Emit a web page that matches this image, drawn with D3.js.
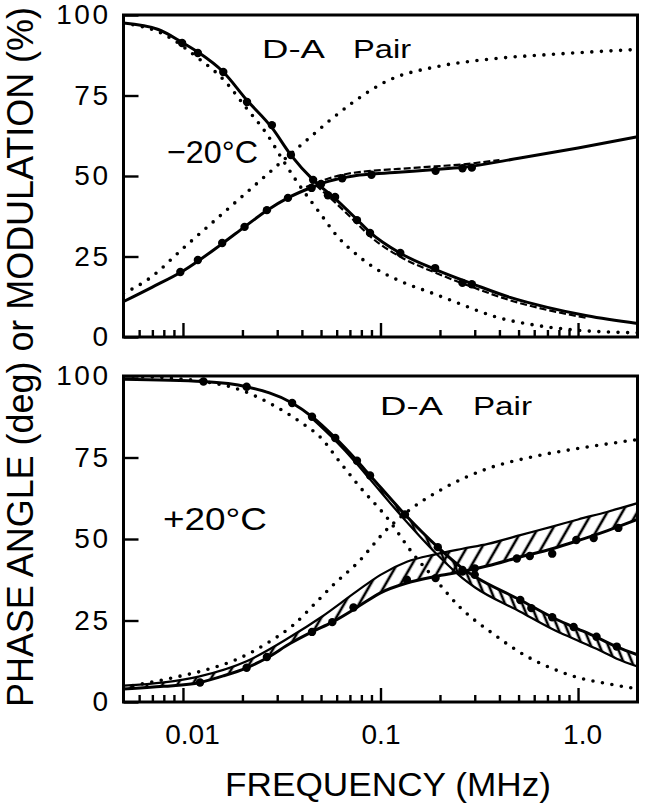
<!DOCTYPE html>
<html><head><meta charset="utf-8">
<script src="https://cdn.jsdelivr.net/npm/d3@7"></script>
<style>
body{margin:0;background:#fff}
svg{display:block}
text{font-family:"Liberation Sans",Arial,sans-serif;fill:#000}
</style>
</head><body>
<svg id="chart" width="645" height="806"></svg>
<script>
// ---------------- DATA (frequency in MHz, value in deg or %) ----------------
const xTickValues = [0.01, 0.1, 1];
const xTickLabels = ["0.01", "0.1", "1.0"];
const yTickValues = [0, 25, 50, 75, 100];

// Top panel (-20 °C)
const topPhaseFit = [[0.005,11],[0.007,15.5],[0.01,20.5],[0.0158,29],[0.0205,34.2],[0.0266,39.3],[0.034,43.2],[0.045,46.5],[0.055,48.4],[0.073,50],[0.09,50.6],[0.123,51.2],[0.19,52],[0.26,52.7],[0.5,55.5],[1.0,58.7],[2.0,62.2]];
const topPhaseAlt = [[0.042,46.6],[0.055,49.3],[0.073,51],[0.09,51.6],[0.123,52.2],[0.19,53],[0.26,53.6],[0.4,55]];
const topModFit = [[0.005,97.5],[0.0075,95.5],[0.0099,91.5],[0.0119,88.5],[0.016,82.3],[0.0211,73.5],[0.0282,65],[0.0352,56.5],[0.0456,48.8],[0.0589,43],[0.076,36.5],[0.0885,32.5],[0.126,26],[0.189,21],[0.301,16.2],[0.453,12.3],[0.7,9.2],[1.11,6.6],[2,4.2]];
const topModAlt = [[0.047,47.2],[0.0589,41.8],[0.076,35.3],[0.0885,31.3],[0.126,24.9],[0.189,20],[0.301,15.2],[0.453,11.4],[0.7,8.4],[1.11,5.9]];
const topPhaseOneExp = [[0.005,13.5],[0.0068,18.3],[0.01,27.5],[0.015,37],[0.0235,47.5],[0.031,54],[0.044,62],[0.056,67.5],[0.073,73],[0.108,79.5],[0.194,84],[0.345,86.2],[0.75,87.8],[2,89.3]];
const topModOneExp = [[0.005,97.5],[0.008,94],[0.012,86.5],[0.016,80],[0.021,71],[0.0266,63],[0.032,55],[0.0375,48.5],[0.05,38],[0.06,31.5],[0.076,25.5],[0.096,21],[0.13,17],[0.185,13.5],[0.26,10],[0.38,6.3],[0.59,3.8],[0.95,2.2],[2,1.3]];
const topPhasePts = [[0.0097,20.2],[0.0119,23.9],[0.0158,29.2],[0.0205,34.2],[0.0266,39.4],[0.034,43.2],[0.0448,46.3],[0.05,47.5],[0.064,49.3],[0.09,50.4],[0.19,51.6],[0.26,52.4],[0.29,52.6]];
const topModPts = [[0.0099,91.3],[0.0119,88.2],[0.016,82.3],[0.0211,73],[0.0282,65.8],[0.0352,56.5],[0.0456,48.8],[0.0542,44],[0.0589,43.5],[0.076,36.3],[0.0885,32.3],[0.126,26.1],[0.189,21.4],[0.26,16.8],[0.29,16.4]];

// Bottom panel (+20 °C)
const botPhaseFit = [[0.005,4],[0.008,4.8],[0.0122,6],[0.016,8],[0.021,10.5],[0.0266,13.5],[0.035,18],[0.045,21.5],[0.057,24.5],[0.076,29],[0.1,33.5],[0.136,36.5],[0.19,38.5],[0.26,40],[0.35,41.8],[0.51,44.5],[0.74,47],[1.0,49.5],[1.4,52.5],[2,56]];
const botPhaseBand = [[0.005,4,5],[0.008,4.8,6],[0.012,6,7.8],[0.021,10.5,12.5],[0.035,18,20],[0.05,22.8,26],[0.076,29,34],[0.1,33.5,39],[0.136,36.5,43],[0.19,38.5,45.3],[0.26,40,47],[0.35,41.8,48.5],[0.51,44.5,51.2],[0.74,47,53.8],[1.0,49.5,56],[1.4,52.5,58.3],[2,56,61]];
const botModFit = [[0.005,99],[0.0127,98.3],[0.021,96.7],[0.0357,91.7],[0.045,87.5],[0.059,81],[0.076,74],[0.0885,69.5],[0.133,57.5],[0.195,47.5],[0.26,41],[0.3,38.5],[0.51,31.3],[0.74,26],[0.95,23],[1.24,19.9],[1.57,16.9],[2,14.5]];
const botModBand = [[0.045,87,87.5],[0.059,80.2,81],[0.076,73,74],[0.0885,68.3,69.5],[0.133,55.8,57.5],[0.195,45,47.5],[0.26,38,41],[0.3,35.2,38.5],[0.51,27.7,31.3],[0.74,22.4,26],[0.95,19.4,23],[1.24,16.3,19.9],[1.57,13.3,16.9],[2,10.9,14.5]];
const botPhaseOneExp = [[0.005,4.5],[0.0082,7],[0.0142,10.5],[0.0186,13],[0.0266,18],[0.036,23.5],[0.048,31],[0.059,36.5],[0.076,42.5],[0.108,53],[0.141,59],[0.208,65.5],[0.345,71.5],[0.62,75.5],[1.11,78.2],[2,80.5]];
const botModOneExp = [[0.005,100],[0.012,98.5],[0.02,95.5],[0.0287,91],[0.039,86],[0.05,81],[0.0625,73.5],[0.0785,66],[0.108,56.5],[0.146,45.5],[0.19,37.5],[0.253,29],[0.37,21],[0.55,14],[0.76,10],[1.0,7.5],[1.36,5.8],[2,4]];
const botPhasePts = [[0.0122,6],[0.021,10.5],[0.0266,13.8],[0.045,21.5],[0.057,24.5],[0.073,29],[0.136,37.5],[0.19,38],[0.26,40],[0.3,41],[0.49,44],[0.57,44.8],[0.74,45.5],[0.98,49.7],[1.2,50.3],[1.6,53.4]];
const botModPts = [[0.0127,98.3],[0.021,96.7],[0.0357,91.7],[0.045,87.5],[0.059,81],[0.076,74],[0.0885,69.5],[0.133,57.5],[0.195,47.5],[0.26,40.5],[0.3,39],[0.51,31.3],[0.58,28.8],[0.74,26],[0.95,23],[1.24,20],[1.57,17]];

// ---------------- LAYOUT ----------------
const svg = d3.select("#chart");
const x = d3.scaleLog().domain([0.005, 2]).range([123.5, 637.5]);
const minorTicks = [];
[0.001,0.01,0.1,1].forEach(d => { for (let k=2;k<=9;k++){ const v=d*k; if (v>0.005 && v<2 && xTickValues.indexOf(v)<0) minorTicks.push(+v.toPrecision(3)); } });

const defs = svg.append("defs");
defs.append("pattern").attr("id","hatchDiag").attr("patternUnits","userSpaceOnUse")
  .attr("width",13).attr("height",13).attr("patternTransform","rotate(30)")
  .append("line").attr("x1",2).attr("y1",0).attr("x2",2).attr("y2",13)
  .attr("stroke","#000").attr("stroke-width",2.6);
defs.append("pattern").attr("id","hatchVert").attr("patternUnits","userSpaceOnUse")
  .attr("width",8).attr("height",8).attr("patternTransform","rotate(-22)")
  .append("line").attr("x1",2).attr("y1",0).attr("x2",2).attr("y2",8)
  .attr("stroke","#000").attr("stroke-width",2.6);

const panels = [
  {top:15, bottom:337, id:"p1", phaseFit:topPhaseFit, modFit:topModFit, phaseAlt:topPhaseAlt, modAlt:topModAlt,
   phase1:topPhaseOneExp, mod1:topModOneExp, phasePts:topPhasePts, modPts:topModPts, labels:false},
  {top:376, bottom:702, id:"p2", phaseFit:botPhaseFit, modFit:botModFit, phaseBand:botPhaseBand, modBand:botModBand,
   phase1:botPhaseOneExp, mod1:botModOneExp, phasePts:botPhasePts, modPts:botModPts, labels:true}
];

panels.forEach(p => {
  const y = d3.scaleLinear().domain([0,100]).range([p.bottom, p.top]);
  const g = svg.append("g");
  defs.append("clipPath").attr("id","clip"+p.id).append("rect")
    .attr("x",x.range()[0]).attr("y",p.top).attr("width",x.range()[1]-x.range()[0]).attr("height",p.bottom-p.top);
  const plot = g.append("g").attr("clip-path","url(#clip"+p.id+")");
  const line = d3.line().x(d=>x(d[0])).y(d=>y(d[1])).curve(d3.curveMonotoneX);
  const area = d3.area().x(d=>x(d[0])).y0(d=>y(d[1])).y1(d=>y(d[2])).curve(d3.curveMonotoneX);

  // dotted single-exponential curves
  [p.phase1, p.mod1].forEach(s => plot.append("path").attr("d", line(s)).attr("fill","none")
    .attr("stroke","#000").attr("stroke-width",3.6).attr("stroke-linecap","round").attr("stroke-dasharray","0 9.6"));

  // bands
  if (p.phaseBand) {
    plot.append("path").attr("d", area(p.phaseBand)).attr("fill","url(#hatchDiag)").attr("stroke","none");
    plot.append("path").attr("d", line(p.phaseBand.map(d=>[d[0],d[2]]))).attr("fill","none").attr("stroke","#000").attr("stroke-width",2.2);
  }
  if (p.modBand) {
    plot.append("path").attr("d", area(p.modBand)).attr("fill","url(#hatchVert)").attr("stroke","none");
    plot.append("path").attr("d", line(p.modBand.map(d=>[d[0],d[1]]))).attr("fill","none").attr("stroke","#000").attr("stroke-width",2.2);
  }
  // dashed companions (top panel)
  [p.phaseAlt, p.modAlt].forEach(s => { if (s) plot.append("path").attr("d", line(s)).attr("fill","none")
    .attr("stroke","#000").attr("stroke-width",2.2).attr("stroke-dasharray","7 3"); });

  // solid fits
  [p.phaseFit, p.modFit].forEach(s => plot.append("path").attr("d", line(s)).attr("fill","none")
    .attr("stroke","#000").attr("stroke-width",3));

  // data points
  [p.phasePts, p.modPts].forEach(s => plot.selectAll(null).data(s).enter().append("circle")
    .attr("cx", d=>x(d[0])).attr("cy", d=>y(d[1])).attr("r",4.2).attr("fill","#000"));

  // axes
  const gx = g.append("g").attr("transform",`translate(0,${p.bottom})`);
  gx.append("g").call(d3.axisBottom(x).tickValues(minorTicks).tickSize(-7).tickFormat(""));
  const major = gx.append("g").call(d3.axisBottom(x).tickValues(xTickValues).tickSize(-14).tickPadding(22)
    .tickFormat((d,i)=> p.labels ? xTickLabels[i] : ""));
  major.selectAll("text").attr("font-size",28).attr("dx", (d,i)=> i===0 ? 9 : (i===2 ? 4 : 0))
    .attr("font-family","Liberation Sans, Arial, sans-serif").attr("fill","#000");
  const gy = g.append("g").attr("transform",`translate(${x.range()[0]},0)`)
    .call(d3.axisLeft(y).tickValues(yTickValues).tickSize(-15).tickPadding(13));
  gy.selectAll("text").attr("font-size",28).attr("letter-spacing",2.5)
    .attr("font-family","Liberation Sans, Arial, sans-serif").attr("fill","#000");
  g.selectAll(".domain").remove();
  g.selectAll(".tick line").attr("stroke","#000").attr("stroke-width",2.4);

  g.append("rect").attr("x",x.range()[0]).attr("y",p.top).attr("width",x.range()[1]-x.range()[0])
    .attr("height",p.bottom-p.top).attr("fill","none").attr("stroke","#000").attr("stroke-width",3);
});

// ---------------- TEXT ----------------
function txt(s, xx, yy, size, len, anchor){
  const t = svg.append("text").attr("x",xx).attr("y",yy).attr("font-size",size).text(s);
  if (len) t.attr("textLength",len).attr("lengthAdjust","spacingAndGlyphs");
  if (anchor) t.attr("text-anchor",anchor);
  return t;
}
txt("D-A", 262, 58, 25, 63);
txt("Pair", 353, 58, 25, 58);
txt("\u221220\u00b0C", 167, 163, 32, 91);
txt("D-A", 380, 415, 25, 63);
txt("Pair", 473, 415, 25, 59);
txt("+20\u00b0C", 163, 530, 31, 104);
txt("FREQUENCY  (MHz)", 388, 796, 34, 326, "middle");
svg.append("text").attr("transform","translate(33,357) rotate(-90)").attr("text-anchor","middle")
  .attr("font-size",36).attr("textLength",700).attr("lengthAdjust","spacingAndGlyphs")
  .text("PHASE ANGLE (deg) or MODULATION (%)");
</script>
</body></html>
